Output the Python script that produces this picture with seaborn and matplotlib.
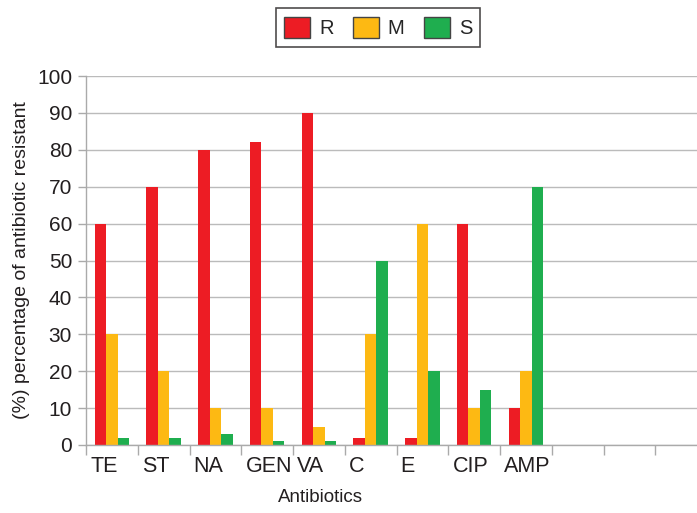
import matplotlib
matplotlib.use("Agg")
import matplotlib.pyplot as plt
import matplotlib.patches as mpatches
import seaborn as sns
import pandas as pd
import numpy as np

antibiotics = ["TE", "ST", "NA", "GEN", "VA", "C", "E", "CIP", "AMP"]
resistant = [60, 70, 80, 82, 90, 2, 2, 60, 10]
moderate = [30, 20, 10, 10, 5, 30, 60, 10, 20]
sensitive = [2, 2, 3, 1, 1, 50, 20, 15, 70]
series = ["R", "M", "S"]
colors = ["#ED1C24", "#FDB913", "#1FAE4F"]
n_slots = 12

df = pd.DataFrame({
    "Antibiotic": antibiotics * 3,
    "Status": ["R"] * 9 + ["M"] * 9 + ["S"] * 9,
    "Value": resistant + moderate + sensitive,
})

sns.set_style("white")
plt.rcParams["font.family"] = ["Liberation Sans", "DejaVu Sans"]

fig = plt.figure(figsize=(6.97, 5.13), dpi=100)
ax = fig.add_axes([86 / 697, (513 - 445) / 513, 621 / 697, 369 / 513])

sns.barplot(data=df, x="Antibiotic", y="Value", hue="Status", order=antibiotics,
            hue_order=series, palette=colors, width=0.67, saturation=1,
            edgecolor="none", legend=False, ax=ax)

ax.set_xlim(-0.5, n_slots - 0.5)
ax.set_ylim(0, 100)
ax.set_yticks(np.arange(0, 101, 10))
ax.yaxis.grid(True, color="#BBBBBB", linewidth=1)
ax.set_axisbelow(True)

# slot boundaries drawn as minor ticks, labels placed at the left of each slot
ax.set_xticks(np.arange(-0.5, n_slots, 1), minor=True)
ax.set_xticks(np.arange(len(antibiotics)) - 0.5 + 0.08)
ax.set_xticklabels(antibiotics, ha="left", fontsize=15.5, color="#231F20")
ax.tick_params(axis="x", which="major", length=0, pad=8)
ax.tick_params(axis="x", which="minor", length=7, width=1, color="#AAAAAA", bottom=True)
ax.tick_params(axis="y", which="major", length=6, width=1, color="#AAAAAA", left=True,
               labelsize=15, labelcolor="#231F20", pad=4)

for side in ["top", "right"]:
    ax.spines[side].set_visible(False)
for side in ["left", "bottom"]:
    ax.spines[side].set_color("#AAAAAA")
    ax.spines[side].set_linewidth(1)

ax.set_xlabel("Antibiotics", fontsize=13.5, color="#231F20")
ax.xaxis.set_label_coords((320 - 86) / 621, -(498 - 445) / 369)
ax.xaxis.label.set_va("center")
ax.set_ylabel("(%) percentage of antibiotic resistant", fontsize=14, color="#231F20")
ax.yaxis.set_label_coords(-(86 - 22) / 621, 0.5)
ax.yaxis.label.set_va("center")

handles = [mpatches.Patch(facecolor=c, edgecolor="#444444", linewidth=1, label=s)
           for c, s in zip(colors, series)]
leg = fig.legend(handles=handles, loc="center", bbox_to_anchor=(378 / 697, 1 - 27.5 / 513),
                 ncol=3, fontsize=14.5, frameon=True, fancybox=False,
                 handlelength=1.3, handleheight=1.3, handletextpad=0.45,
                 columnspacing=0.95, borderpad=0.4, borderaxespad=0)
leg.get_frame().set_edgecolor("#231F20")
leg.get_frame().set_linewidth(1.2)

fig.savefig("out.png", dpi=100)
